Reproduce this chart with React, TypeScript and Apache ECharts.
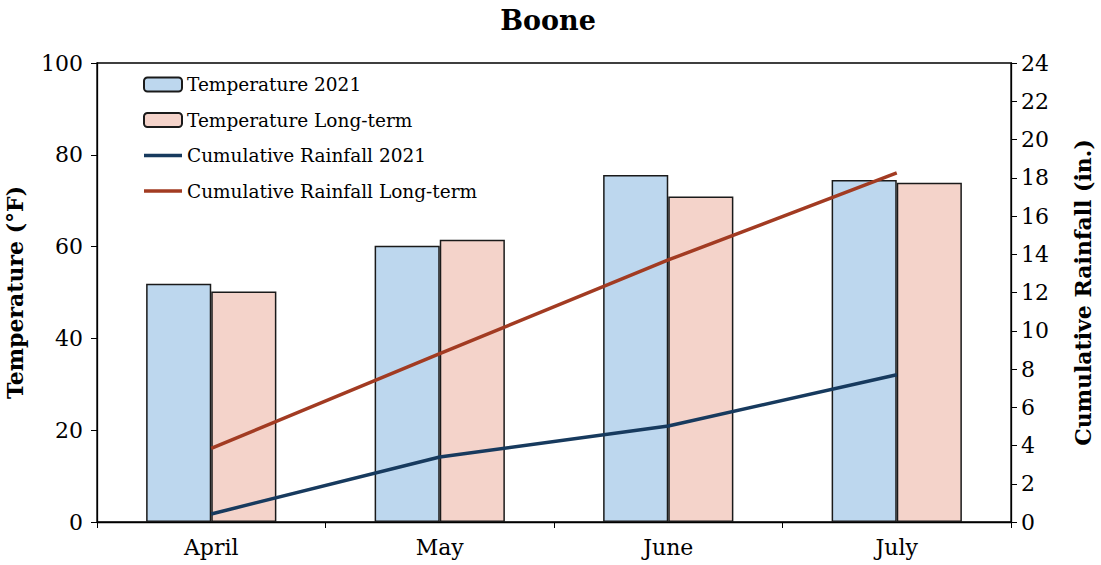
import React, { useEffect, useRef } from "react";
import * as echarts from "echarts";

const months = ["April", "May", "June", "July"];
const temp2021 = [51.9, 60.2, 75.6, 74.5];
const tempLongTerm = [50.2, 61.5, 70.9, 73.9];
const rain2021 = [0.42, 3.4, 5.02, 7.7];
const rainLongTerm = [3.85, 8.8, 13.7, 18.25];

const FONT = "DejaVu Serif";
const LINE_ICON = "path://M0,0 M0,5.2 L38,5.2 L38,8.8 L0,8.8 Z M38,14";

export default function App() {
  const ref = useRef<HTMLDivElement>(null);
  useEffect(() => {
    if (!ref.current) return;
    const chart = echarts.init(ref.current, null, { renderer: "svg" });
    chart.setOption({
      animation: false,
      backgroundColor: "#fff",
      title: {
        text: "Boone",
        left: 543,
        textAlign: "center",
        top: 2,
        textStyle: { fontFamily: FONT, fontWeight: "bold", fontSize: 27, color: "#000" },
      },
      grid: {
        left: 97,
        right: 90,
        top: 63,
        bottom: 43,
        containLabel: false,
        outerBoundsMode: "none",
        show: true,
        borderColor: "#000",
        borderWidth: 1.3,
        backgroundColor: "transparent",
      },
      legend: {
        orient: "vertical",
        left: 138,
        top: 70,
        itemWidth: 38,
        itemHeight: 14,
        itemGap: 16.5,
        textStyle: { fontFamily: FONT, fontSize: 18.5, color: "#000" },
        data: [
          { name: "Temperature 2021" },
          { name: "Temperature Long-term" },
          { name: "Cumulative Rainfall 2021", icon: LINE_ICON },
          { name: "Cumulative Rainfall Long-term", icon: LINE_ICON },
        ],
      },
      xAxis: {
        type: "category",
        data: months,
        axisLine: { lineStyle: { color: "#000", width: 1.3 } },
        axisTick: { show: true, alignWithLabel: false, length: 6, lineStyle: { color: "#000" } },
        axisLabel: { fontFamily: FONT, fontSize: 22, color: "#000", margin: 14 },
      },
      yAxis: [
        {
          type: "value",
          min: 0,
          max: 100,
          interval: 20,
          name: "Temperature (°F)",
          nameLocation: "middle",
          nameGap: 71,
          nameTextStyle: { fontFamily: FONT, fontWeight: "bold", fontSize: 22, color: "#000" },
          splitLine: { show: false },
          axisLine: { show: true, lineStyle: { color: "#000", width: 1.3 } },
          axisTick: { show: true, length: 6, lineStyle: { color: "#000" } },
          axisLabel: { fontFamily: FONT, fontSize: 22, color: "#000", margin: 14 },
        },
        {
          type: "value",
          min: 0,
          max: 24,
          interval: 2,
          position: "right",
          name: "Cumulative Rainfall (in.)",
          nameLocation: "middle",
          nameGap: 61,
          nameRotate: 90,
          nameTextStyle: { fontFamily: FONT, fontWeight: "bold", fontSize: 22, color: "#000" },
          splitLine: { show: false },
          axisLine: { show: true, lineStyle: { color: "#000", width: 1.3 } },
          axisTick: { show: true, length: 6, lineStyle: { color: "#000" } },
          axisLabel: { fontFamily: FONT, fontSize: 22, color: "#000", margin: 10 },
        },
      ],
      series: [
        {
          name: "Temperature 2021",
          type: "bar",
          data: temp2021,
          barGap: "0%",
          barCategoryGap: "43%",
          itemStyle: { color: "#BDD7EE", borderColor: "#1a1a1a", borderWidth: 1.5 },
        },
        {
          name: "Temperature Long-term",
          type: "bar",
          data: tempLongTerm,
          itemStyle: { color: "#F4D3CA", borderColor: "#1a1a1a", borderWidth: 1.5 },
        },
        {
          name: "Cumulative Rainfall 2021",
          type: "line",
          yAxisIndex: 1,
          data: rain2021,
          symbol: "none",
          lineStyle: { color: "#173A5E", width: 3.5 },
          itemStyle: { color: "#173A5E" },
        },
        {
          name: "Cumulative Rainfall Long-term",
          type: "line",
          yAxisIndex: 1,
          data: rainLongTerm,
          symbol: "none",
          lineStyle: { color: "#A23B22", width: 3.5 },
          itemStyle: { color: "#A23B22" },
        },
      ],
    });
    return () => chart.dispose();
  }, []);
  return (
    <div
      ref={ref}
      style={{ position: "absolute", left: 0, top: 0, width: 1101, height: 565 }}
    />
  );
}
